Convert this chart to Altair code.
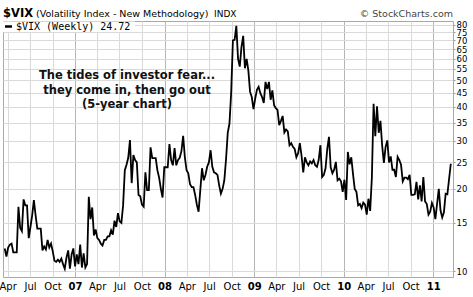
import altair as alt
import pandas as pd

# ---- data (weekly $VIX closes, weeks starting Monday) ----
first_week = "2006-03-20"
vix = [
    12.1, 11.3, 12.2, 12.5, 12.6, 11.7, 11.7, 11.7, 17.2, 14.4,
    14.0, 18.3, 17.4, 17.4, 13.2, 14.5, 16.0, 18.2, 16.0, 14.3,
    14.3, 14.3, 11.9, 12.3, 12.0, 13.0, 12.2, 12.6, 11.8, 10.9,
    10.8, 11.0, 10.8, 11.1, 10.6, 10.2, 11.2, 11.9, 10.2, 11.5,
    12.1, 10.4, 11.5, 10.6, 12.5, 10.3, 11.6, 10.3, 10.6, 18.7,
    15.5, 17.1, 13.5, 14.2, 13.2, 13.0, 12.6, 12.4, 13.0, 13.0,
    13.4, 13.4, 14.1, 13.6, 15.3, 14.5, 16.3, 15.2, 15.0, 17.4,
    23.4, 24.5, 26.0, 30.2, 21.0, 26.6, 25.5, 25.0, 19.0, 18.8,
    17.5, 17.2, 23.0, 19.8, 19.8, 28.4, 25.9, 25.9, 25.9, 23.4,
    22.0, 20.0, 18.6, 24.0, 24.0, 24.0, 29.2, 25.5, 24.4, 28.2,
    24.4, 25.5, 26.0, 27.5, 31.3, 26.1, 23.4, 22.8, 20.8, 20.3,
    20.3, 19.0, 17.5, 16.5, 19.8, 23.8, 21.5, 22.5, 24.1, 25.0,
    27.7, 24.1, 23.0, 22.8, 22.5, 20.6, 19.2, 20.0, 21.5, 25.7,
    32.1, 34.7, 45.1, 70.0, 70.3, 79.1, 59.9, 56.1, 66.3, 72.7,
    55.3, 59.9, 54.3, 45.3, 43.4, 39.2, 42.8, 46.1, 47.3, 44.8,
    43.4, 41.3, 49.3, 46.4, 49.3, 42.4, 45.9, 40.5, 39.5, 38.9,
    34.2, 35.5, 37.0, 32.2, 33.0, 32.5, 28.9, 29.4, 28.5, 28.0,
    26.1, 27.0, 29.4, 26.5, 23.0, 26.1, 25.0, 24.4, 25.2, 24.8,
    25.5, 24.4, 24.1, 25.5, 28.9, 22.1, 22.5, 23.8, 28.0, 31.0,
    24.0, 22.8, 23.5, 25.1, 21.5, 21.8, 21.3, 19.5, 21.6, 18.2,
    27.3, 24.6, 26.1, 22.7, 20.0, 19.5, 17.4, 17.6, 17.0, 17.8,
    17.5, 16.1, 18.4, 16.6, 22.0, 41.0, 31.2, 40.1, 32.1, 35.5,
    28.8, 24.9, 28.5, 30.1, 25.0, 26.3, 23.5, 23.5, 22.1, 26.2,
    25.5, 24.5, 21.3, 22.0, 22.0, 21.7, 22.5, 19.0, 19.0, 19.1,
    21.2, 18.3, 20.6, 18.0, 22.1, 18.0, 17.6, 16.1, 16.5, 17.75,
    17.1, 15.5, 17.6, 20.0, 16.7, 15.7, 16.4, 19.2, 19.1, 21.7, 24.72,
]
x_ticks = [
    "2006-04-01", "2006-07-01", "2006-10-01", "2007-01-01",
    "2007-04-01", "2007-07-01", "2007-10-01", "2008-01-01",
    "2008-04-01", "2008-07-01", "2008-10-01", "2009-01-01",
    "2009-04-01", "2009-07-01", "2009-10-01", "2010-01-01",
    "2010-04-01", "2010-07-01", "2010-10-01", "2011-01-01",
]
x_domain = ["2006-03-13", "2011-03-23"]
y_ticks = [10, 15, 20, 25, 30, 35, 40, 45, 50, 55, 60, 65, 70, 75, 80]
y_domain = [9.51, 82.4]
last_close = "24.72"


def ms(d):
    return int(pd.Timestamp(d, tz="UTC").value // 10**6)


dates = pd.date_range(first_week, periods=len(vix), freq="7D")
df = pd.DataFrame({"date": dates.strftime("%Y-%m-%d"), "vix": vix})
one = pd.DataFrame({"a": [0]})

is_jan = "utcFormat(datum.value, '%m') == '01'"

x_enc = alt.X(
    "date:T",
    scale=alt.Scale(type="utc", domain=[ms(d) for d in x_domain]),
    axis=alt.Axis(
        values=[ms(d) for d in x_ticks],
        labelExpr="utcFormat(datum.value, '%m') == '01' ? utcFormat(datum.value, '%y') : utcFormat(datum.value, '%b')",
        title=None,
        grid=True,
        gridColor={"condition": {"test": is_jan, "value": "#b5b5b5"}, "value": "#dadada"},
        gridWidth=1,
        tickSize=0,
        domain=False,
        labelFont="DejaVu Sans",
        labelFontSize=10,
        labelFontWeight={"condition": {"test": is_jan, "value": "bold"}, "value": "normal"},
        labelColor="#000",
        labelPadding=4,
        labelFlush=False,
        labelOverlap=False,
    ),
)
y_enc = alt.Y(
    "vix:Q",
    scale=alt.Scale(type="log", domain=y_domain, nice=False, zero=False),
    axis=alt.Axis(
        orient="right",
        values=y_ticks,
        title=None,
        grid=True,
        gridColor="#dadada",
        tickSize=2,
        tickColor="#999",
        domain=False,
        labelFont="DejaVu Sans",
        labelFontSize=8.5,
        labelColor="#000",
        labelPadding=1,
        labelOverlap=False,
        labelFlush=False,
    ),
)

line = alt.Chart(df).mark_line(color="black", strokeWidth=1.8, clip=True).encode(x=x_enc, y=y_enc)

legend_box = alt.Chart(one).mark_rect(fill="white").encode(
    x=alt.value(0), x2=alt.value(132), y=alt.value(0.5), y2=alt.value(11)
)
legend_dash = alt.Chart(one).mark_rule(color="black", strokeWidth=2.5).encode(
    x=alt.value(2), x2=alt.value(9), y=alt.value(5.5)
)
legend_text = alt.Chart(one).mark_text(
    text="$VIX (Weekly) " + last_close, align="left", baseline="middle",
    font="DejaVu Sans Mono", fontSize=10, color="black"
).encode(x=alt.value(13), y=alt.value(6))

head1 = alt.Chart(one).mark_text(
    text="$VIX", align="left", baseline="alphabetic",
    font="DejaVu Sans", fontSize=11.5, fontWeight="bold", color="black"
).encode(x=alt.value(0), y=alt.value(-4))
head2 = alt.Chart(one).mark_text(
    text="(Volatility Index - New Methodology)", align="left", baseline="alphabetic",
    font="DejaVu Sans", fontSize=9.5, color="black"
).encode(x=alt.value(33), y=alt.value(-4))
head3 = alt.Chart(one).mark_text(
    text="INDX", align="left", baseline="alphabetic",
    font="DejaVu Sans", fontSize=9, color="black"
).encode(x=alt.value(211), y=alt.value(-4))
head4 = alt.Chart(one).mark_text(
    text="© StockCharts.com", align="right", baseline="alphabetic",
    font="DejaVu Sans", fontSize=9.5, color="#444"
).encode(x=alt.value(450), y=alt.value(-4))

note = alt.Chart(one).mark_text(
    text=["The tides of investor fear...", " they come in, then go out", "(5-year chart)"],
    align="center", baseline="top", lineHeight=14.5,
    font="DejaVu Sans", fontSize=11.5, fontWeight="bold", color="#111"
).encode(x=alt.value(124), y=alt.value(49))

chart = alt.layer(
    line, legend_box, legend_dash, legend_text, head1, head2, head3, head4, note
).properties(
    width=450, height=256,
    padding={"left": 3, "top": 21, "right": 20, "bottom": 20},
    autosize=alt.AutoSizeParams(type="none"),
    background="white",
).configure_view(stroke="#a8a8a8", strokeWidth=1)

chart.save("out.html", embed_options={"renderer": "svg", "actions": False})
